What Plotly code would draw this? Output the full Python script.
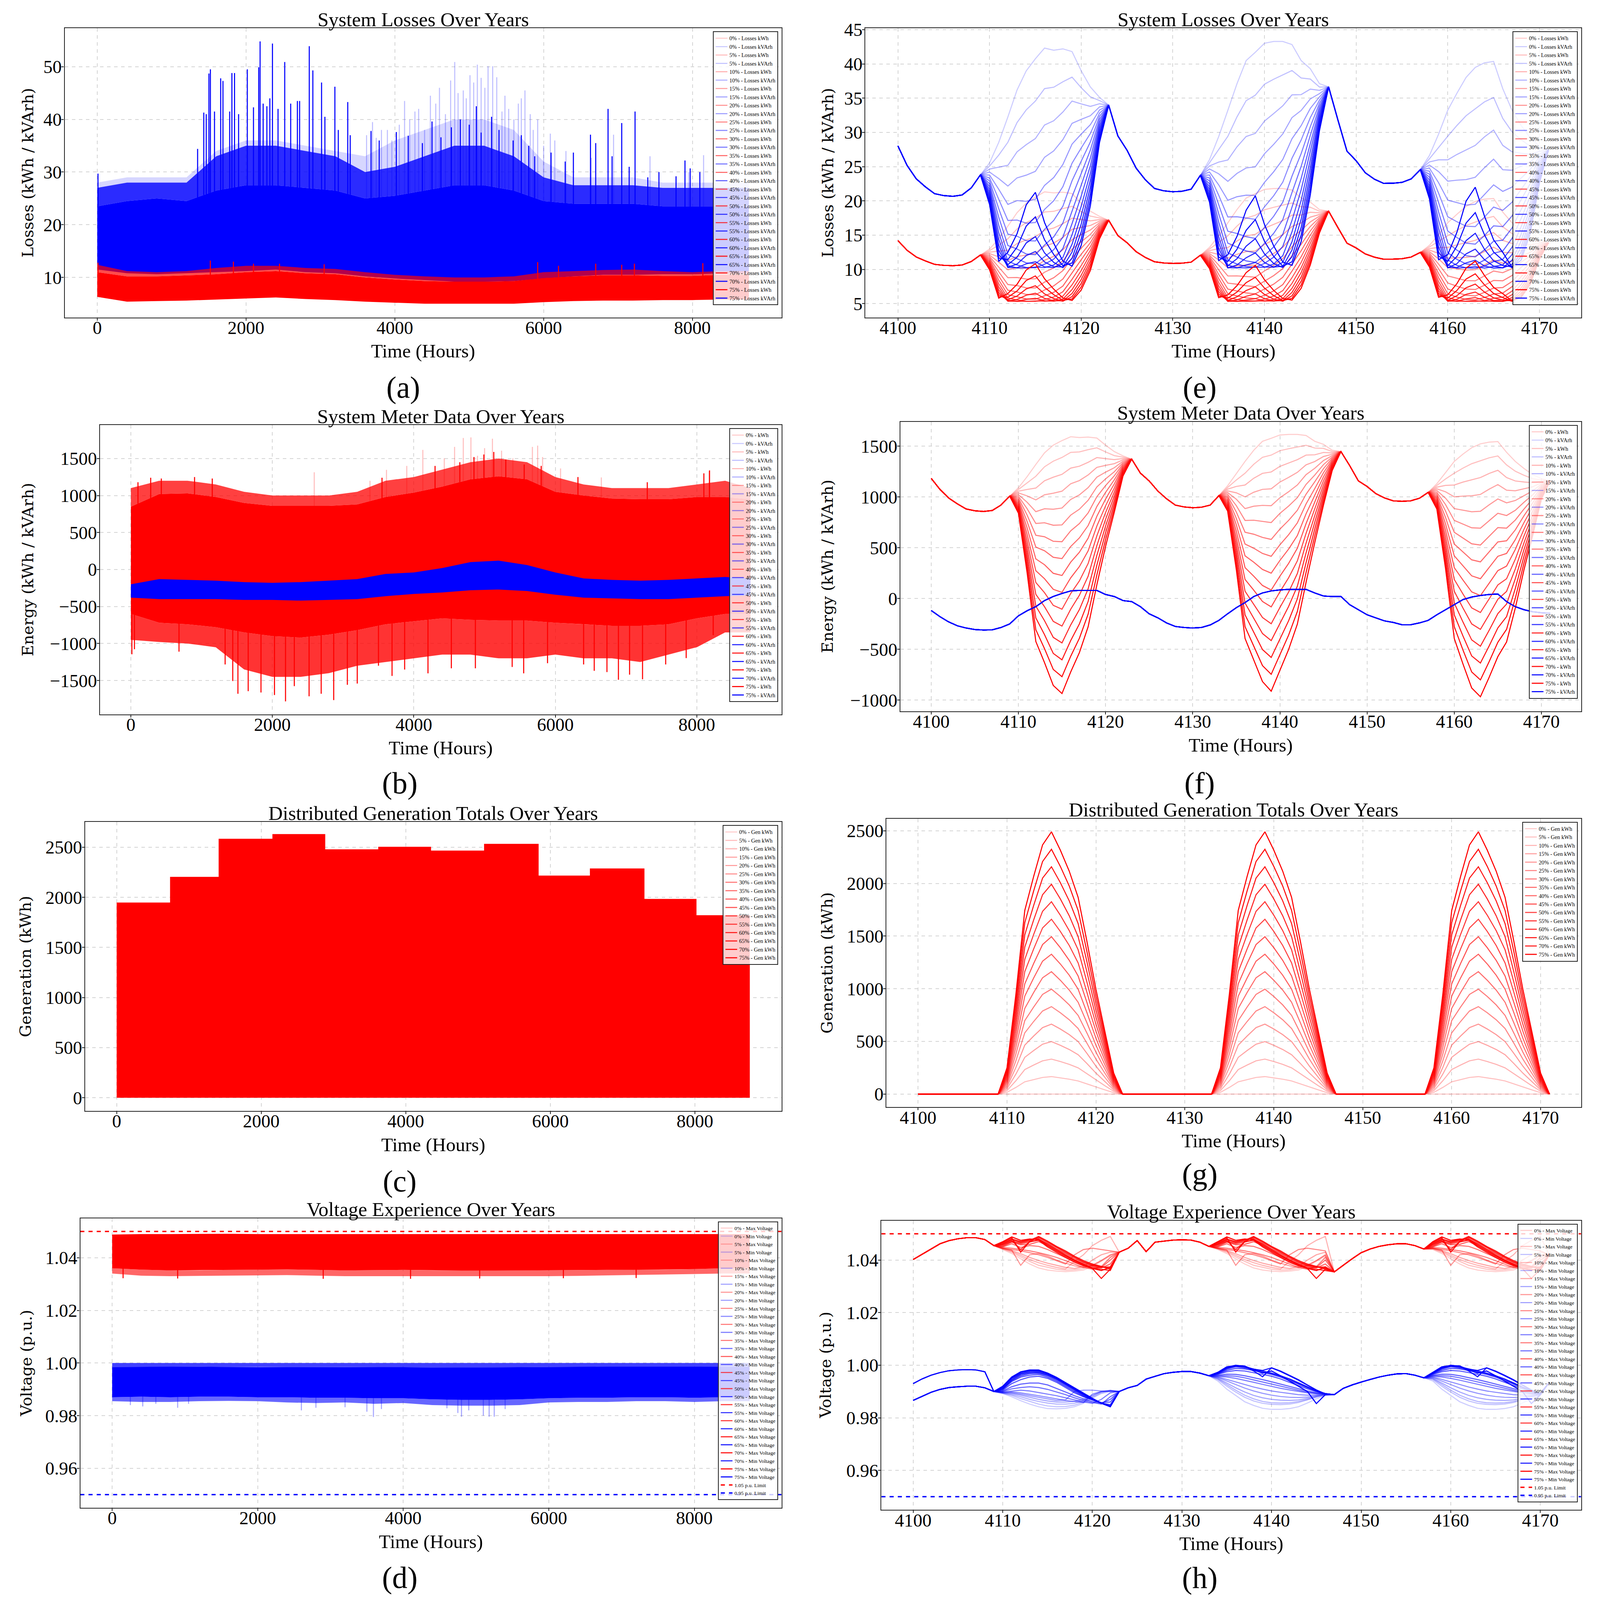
import plotly.graph_objects as go

# ------------------------------------------------------------------ data
LEVELS = [0, 5, 10, 15, 20, 25, 30, 35, 40, 45, 50, 55, 60, 65, 70, 75]

BAND_HOURS = [0, 400, 800, 1200, 1600, 2000, 2400, 2800, 3200, 3600, 4000, 4400,
              4800, 5200, 5600, 6000, 6400, 6800, 7200, 7600, 8000, 8400, 8759]

# (a) losses
LOSS_KWH_LO = [6.3, 5.4, 5.5, 5.6, 5.8, 6.0, 6.2, 5.9, 5.7, 5.4, 5.2, 5.0,
               5.0, 5.0, 5.0, 5.3, 5.5, 5.6, 5.6, 5.7, 5.7, 5.8, 5.8]
LOSS_KWH_HI = [11.0, 10.2, 10.2, 10.4, 10.6, 11.0, 11.2, 10.8, 10.6, 10.0, 9.6, 9.3,
               9.2, 9.2, 9.3, 9.9, 10.2, 10.4, 10.4, 10.3, 10.3, 10.5, 10.5]
LOSS_KWH_EDGE = [12.4, 11.2, 11.0, 11.2, 11.8, 12.2, 12.2, 11.8, 11.6, 11.0, 10.5, 10.2,
                 10.0, 10.0, 10.2, 11.0, 11.2, 11.4, 11.5, 11.2, 11.0, 11.2, 11.2]
LOSS_KWH_SPIKE_H = [10, 1520, 1830, 2100, 2450, 3050, 5920, 6200, 6700, 7050, 7220, 8140]
LOSS_KWH_SPIKE_V = [12.8, 13.2, 13.0, 12.6, 12.6, 12.5, 12.9, 12.2, 12.6, 12.4, 12.6, 12.7]

LOSS_KVARH_LO = [11.5, 10.8, 10.6, 10.8, 11.0, 11.2, 11.5, 11.0, 10.8, 10.2, 9.8, 9.5,
                 9.2, 9.2, 9.3, 9.8, 10.2, 10.5, 10.5, 10.6, 10.6, 10.8, 10.8]
LOSS_KVARH_HI = [23.5, 24.5, 25.0, 24.5, 26.5, 27.5, 27.5, 27.0, 26.5, 25.0, 25.5, 26.5,
                 27.5, 27.5, 26.5, 24.5, 24.0, 24.0, 24.0, 23.5, 23.5, 23.5, 23.5]
LOSS_KVARH_EDGE = [27.0, 28.0, 28.0, 28.0, 33.0, 35.0, 35.0, 34.0, 33.0, 30.0, 31.0, 33.0,
                   35.0, 35.0, 33.0, 29.0, 27.5, 27.5, 27.5, 27.0, 27.0, 27.0, 27.0]
LOSS_KVARH_LIGHT = [28.0, 29.0, 29.0, 29.0, 34.0, 36.0, 36.0, 35.0, 34.0, 33.0, 36.0, 38.0,
                    40.0, 40.0, 38.0, 32.0, 29.0, 29.0, 29.0, 28.0, 28.0, 28.0, 28.0]
LOSS_KVARH_SPIKE_H = [10, 1349, 1432, 1465, 1501, 1521, 1576, 1659, 1690, 1780,
                      1810, 1845, 1900, 2017, 2100, 2170, 2189, 2230, 2280, 2320,
                      2355, 2430, 2520, 2600, 2690, 2720, 2850, 2898, 3015, 3060,
                      3194, 3240, 3367, 3400, 3680, 3790, 4020, 4180, 4370, 4500,
                      4620, 4760, 4880, 5000, 5095, 5160, 5300, 5400, 5590, 5700,
                      5800, 5880, 6100, 6290, 6400, 6630, 6700, 6866, 6920, 7050,
                      7150, 7229, 7400, 7550, 7780, 7900, 7970, 8100]
LOSS_KVARH_SPIKE_V = [29.7, 34.4, 41.3, 41.0, 48.7, 49.5, 41.5, 47.8, 47.3, 41.5,
                      48.8, 48.8, 41.0, 49.5, 42.3, 49.9, 54.8, 43.0, 42.5, 44.0,
                      54.4, 42.0, 50.9, 43.0, 43.5, 43.5, 53.9, 49.3, 47.0, 40.5,
                      46.2, 38.0, 43.3, 37.0, 37.8, 36.0, 37.6, 36.9, 35.5, 39.6,
                      36.6, 38.5, 40.0, 39.0, 42.5, 37.5, 40.5, 38.0, 36.0, 37.0,
                      35.0, 33.0, 33.7, 32.0, 33.7, 37.1, 35.5, 42.0, 33.0, 39.3,
                      31.0, 41.5, 29.0, 30.0, 29.2, 32.2, 30.7, 30.0]
LOSS_KVARH_LIGHT_SPIKE_H = [3620, 3700, 3750, 3820, 3900, 3960, 4060, 4131, 4200, 4270,
                            4320, 4400, 4478, 4550, 4600, 4680, 4750, 4805, 4850, 4920,
                            4960, 5010, 5060, 5109, 5160, 5210, 5253, 5315, 5370, 5440,
                            5480, 5530, 5600, 5660, 5700, 5749, 5820, 5860, 5920, 6000,
                            6090, 6150, 6300, 6640, 6940, 7430, 7950, 8150]
LOSS_KVARH_LIGHT_SPIKE_V = [37.0, 39.5, 36.5, 38.0, 38.0, 36.0, 39.0, 43.5, 40.0, 41.5,
                            42.0, 38.0, 44.5, 43.0, 46.0, 41.0, 47.4, 50.9, 45.0, 45.5,
                            44.0, 48.4, 47.0, 50.4, 47.9, 46.0, 50.1, 50.1, 48.0, 41.5,
                            44.5, 42.0, 40.0, 43.0, 44.0, 45.5, 41.0, 38.0, 40.0, 35.0,
                            37.3, 36.0, 34.0, 32.7, 37.1, 33.0, 30.0, 33.2]

# (b) meter data
METER_KWH_LO = [-600, -720, -740, -780, -850, -900, -920, -880, -820, -740, -700, -660,
                -680, -690, -690, -720, -740, -760, -760, -740, -660, -600, -600]
METER_KWH_HI = [850, 1020, 1030, 980, 900, 860, 860, 860, 880, 980, 1040, 1120,
                1220, 1260, 1220, 1050, 1000, 960, 950, 950, 980, 980, 950]
METER_KWH_LO_EDGE = [-950, -980, -1000, -1050, -1350, -1450, -1450, -1400, -1300, -1250, -1200, -1150,
                     -1150, -1200, -1200, -1150, -1200, -1200, -1250, -1150, -1050, -850, -850]
METER_KWH_HI_EDGE = [1100, 1200, 1200, 1150, 1050, 1000, 1000, 1000, 1050, 1200, 1250, 1350,
                     1450, 1500, 1450, 1250, 1150, 1100, 1100, 1100, 1150, 1200, 1100]
METER_KWH_LIGHT_SPIKE_H = [2592, 3380, 3613, 3900, 4127, 4430, 4576, 4699, 4807, 4900,
                           5000, 5111, 5240, 5400, 5676, 5750, 5820, 6074, 6650, 8174]
METER_KWH_LIGHT_SPIKE_V = [1314, 1200, 1348, 1400, 1617, 1503, 1658, 1778, 1785, 1537,
                           1641, 1768, 1606, 1503, 1658, 1675, 1520, 1366, 1245, 1331]
METER_KWH_UP_SPIKE_H = [100, 280, 430, 900, 1150, 3550, 4300, 4650, 4850, 4990,
                        5130, 5300, 5560, 5800, 6320, 7300, 8100, 8180]
METER_KWH_UP_SPIKE_V = [1180, 1240, 1230, 1250, 1230, 1240, 1400, 1450, 1520, 1555,
                        1589, 1486, 1420, 1400, 1250, 1180, 1300, 1340]
METER_KWH_DOWN_SPIKE_H = [14, 50, 680, 1332, 1440, 1513, 1658, 1839, 2030, 2186,
                          2310, 2519, 2690, 2867, 3060, 3200, 3500, 3692, 3870, 4200,
                          4530, 4870, 5390, 5553, 5890, 6400, 6550, 6730, 6892, 7050,
                          7233, 7560, 7850, 8232]
METER_KWH_DOWN_SPIKE_V = [-1146, -1077, -1110, -1283, -1507, -1679, -1644, -1662, -1696, -1782,
                          -1576, -1713, -1679, -1765, -1558, -1541, -1300, -1438, -1352, -1403,
                          -1335, -1335, -1317, -1403, -1266, -1283, -1369, -1386, -1490, -1421,
                          -1483, -1283, -1197, -887]
METER_KVARH_LO = [-380, -400, -400, -400, -410, -410, -420, -410, -400, -360, -330, -310,
                  -280, -270, -290, -340, -380, -390, -400, -400, -380, -360, -350]
METER_KVARH_HI = [-200, -130, -140, -150, -170, -180, -170, -150, -130, -60, -40, 20,
                  100, 120, 60, -40, -120, -140, -150, -140, -120, -100, -120]

# (c) monthly maximum of the 75 % generation
GEN_MONTH_START = [0, 744, 1416, 2160, 2880, 3624, 4344, 5088, 5832, 6552, 7296, 8016, 8759]
GEN_MONTH_MAX = [1944, 2200, 2580, 2627, 2475, 2500, 2462, 2530, 2213, 2284, 1980, 1817]

# (d) voltage envelopes
VMAX_LO = [1.0360, 1.0355, 1.0352, 1.0352, 1.0354, 1.0355, 1.0356, 1.0354, 1.0352, 1.0353, 1.0354, 1.0352,
           1.0351, 1.0351, 1.0352, 1.0352, 1.0353, 1.0354, 1.0354, 1.0355, 1.0357, 1.0360, 1.0360]
VMAX_HI = [1.0488, 1.0490, 1.0490, 1.0491, 1.0491, 1.0490, 1.0490, 1.0491, 1.0490, 1.0490, 1.0491, 1.0491,
           1.0490, 1.0490, 1.0491, 1.0490, 1.0490, 1.0491, 1.0490, 1.0490, 1.0490, 1.0490, 1.0490]
VMAX_LO_EDGE = [1.0340, 1.0332, 1.0330, 1.0330, 1.0332, 1.0333, 1.0334, 1.0332, 1.0330, 1.0330, 1.0331, 1.0330,
                1.0330, 1.0330, 1.0330, 1.0330, 1.0331, 1.0333, 1.0334, 1.0336, 1.0338, 1.0340, 1.0340]
VMAX_SPIKE_H = [150, 900, 2900, 4100, 5050, 6200, 7200]
VMAX_SPIKE_V = [1.0322, 1.0321, 1.0320, 1.0320, 1.0321, 1.0322, 1.0323]
VMIN_LO = [0.9870, 0.9872, 0.9870, 0.9872, 0.9872, 0.9870, 0.9870, 0.9868, 0.9868, 0.9866, 0.9866, 0.9862,
           0.9860, 0.9860, 0.9862, 0.9866, 0.9868, 0.9868, 0.9870, 0.9870, 0.9868, 0.9870, 0.9870]
VMIN_HI = [0.9985, 0.9986, 0.9986, 0.9986, 0.9985, 0.9984, 0.9985, 0.9985, 0.9985, 0.9984, 0.9984, 0.9983,
           0.9983, 0.9983, 0.9984, 0.9985, 0.9986, 0.9986, 0.9986, 0.9986, 0.9986, 0.9986, 0.9986]
VMIN_HI_EDGE = [1.0000] * 23
VMIN_LO_EDGE = [0.9855, 0.9852, 0.9852, 0.9855, 0.9856, 0.9855, 0.9850, 0.9848, 0.9850, 0.9845, 0.9848, 0.9840,
                0.9838, 0.9838, 0.9840, 0.9850, 0.9852, 0.9852, 0.9855, 0.9855, 0.9852, 0.9855, 0.9855]
VMIN_LIGHT_SPIKE_H = [250, 420, 600, 900, 1050, 2600, 2800, 3200, 3500, 3590,
                      3700, 4600, 4750, 4800, 4900, 5100, 5180, 5250, 5400]
VMIN_LIGHT_SPIKE_V = [0.9840, 0.9835, 0.9845, 0.9830, 0.9845, 0.9820, 0.9830, 0.9832, 0.9815, 0.9795,
                      0.9825, 0.9828, 0.9810, 0.9796, 0.9820, 0.9800, 0.9796, 0.9796, 0.9825]
VOLT_LIMITS = [1.05, 0.95]

# ---- zoomed window, hours 4100-4171 (panels e-h) ----
ZOOM_HOURS = list(range(4100, 4172))
LOAD_KWH = [1183, 1075, 990, 932, 882, 864, 857, 867, 920, 1008,
            1090, 1200, 1320, 1435, 1510, 1555, 1593, 1585, 1590, 1580,
            1510, 1447, 1405, 1372, 1234, 1158, 1058, 982, 920, 902,
            894, 899, 920, 1013, 1110, 1230, 1350, 1460, 1548, 1578,
            1610, 1616, 1616, 1605, 1548, 1518, 1460, 1447, 1309, 1158,
            1103, 1033, 990, 962, 957, 962, 987, 1045, 1130, 1240,
            1350, 1422, 1485, 1523, 1540, 1545, 1440, 1350, 1280, 1220,
            1180, 1160]
KVARH = [-118, -178, -230, -268, -290, -305, -310, -308, -285, -250,
         -170, -120, -80, -20, 20, 50, 75, 80, 80, 80,
         40, 20, -20, -30, -80, -150, -190, -240, -275, -285,
         -290, -285, -260, -215, -150, -90, -40, 20, 55, 75,
         85, 90, 90, 90, 55, 25, 20, 20, -60, -110,
         -160, -190, -220, -235, -258, -258, -240, -215, -160, -110,
         -60, -10, 15, 30, 40, 45, -30, -80, -110, -130,
         -140, -145]
GEN_SHAPE = [0, 0, 0, 0, 0, 0, 0, 0, 0, 0,
             0.10, 0.38, 0.70, 0.83, 0.95, 1.00, 0.93, 0.85, 0.75, 0.58,
             0.40, 0.24, 0.08, 0, 0, 0, 0, 0, 0, 0,
             0, 0, 0, 0, 0.10, 0.38, 0.70, 0.83, 0.95, 1.00,
             0.93, 0.85, 0.75, 0.58, 0.40, 0.24, 0.08, 0, 0, 0,
             0, 0, 0, 0, 0, 0, 0, 0, 0.10, 0.38,
             0.70, 0.83, 0.95, 1.00, 0.93, 0.85, 0.75, 0.58, 0.40, 0.24,
             0.08, 0]
GEN_PEAK = [0, 166, 332, 498, 664, 830, 996, 1162, 1328, 1494, 1660, 1826, 1992, 2158, 2324, 2490]
# losses read as base + coef * (kWh^2 + kVArh^2) of the meter flow
LOSS_KWH_BASE, LOSS_KWH_COEF = 5.3, 6.3e-6
LOSS_KVARH_BASE, LOSS_KVARH_COEF = 10.16, 1.264e-5

# voltages: night values (None = daylight hour, taken from the day tables)
VMAX_NIGHT = ([1.0402, 1.0422, 1.0442, 1.0462, 1.0474, 1.0481, 1.0485, 1.0485, 1.0478, 1.0455]
              + [None] * 13
              + [1.0430, 1.0445, 1.0474, 1.0432, 1.0468, 1.0472, 1.0476, 1.0477, 1.0476, 1.0468, 1.0452]
              + [None] * 13
              + [1.0355, 1.0380, 1.0405, 1.0428, 1.0442, 1.0452, 1.0458, 1.0462, 1.0462, 1.0455, 1.0442]
              + [None] * 13
              + [1.0420])
VMIN_NIGHT = ([0.9930, 0.9948, 0.9962, 0.9972, 0.9979, 0.9982, 0.9983, 0.9982, 0.9975, 0.9900]
              + [None] * 13
              + [0.9900, 0.9914, 0.9923, 0.9947, 0.9958, 0.9968, 0.9973, 0.9976, 0.9976, 0.9970, 0.9960]
              + [None] * 13
              + [0.9888, 0.9912, 0.9925, 0.9936, 0.9946, 0.9955, 0.9962, 0.9967, 0.9968, 0.9962, 0.9952]
              + [None] * 13
              + [0.9935])
VMIN_EARLY_B = [0.9866, 0.9882, 0.9897, 0.9908, 0.9915, 0.9918, 0.9920, 0.9920, 0.9914, 0.9900]
VMIN_EARLY_B_LEVELS = [40, 45, 50, 55, 60, 65, 70, 75]
DAY_FIRST_HOURS = [4110, 4134, 4158]

VMAX_DAY = [
    [1.0440, 1.0425, 1.0405, 1.0385, 1.0370, 1.0362, 1.0358, 1.0356, 1.0358, 1.0362, 1.0375, 1.0395, 1.0415],
    [1.0442, 1.0430, 1.0412, 1.0395, 1.0380, 1.0372, 1.0365, 1.0362, 1.0363, 1.0368, 1.0380, 1.0398, 1.0418],
    [1.0443, 1.0433, 1.0418, 1.0402, 1.0390, 1.0380, 1.0372, 1.0366, 1.0395, 1.0420, 1.0455, 1.0475, 1.0490],
    [1.0444, 1.0436, 1.0424, 1.0410, 1.0398, 1.0388, 1.0380, 1.0372, 1.0368, 1.0375, 1.0400, 1.0420, 1.0430],
    [1.0445, 1.0438, 1.0380, 1.0420, 1.0425, 1.0415, 1.0400, 1.0388, 1.0378, 1.0372, 1.0380, 1.0398, 1.0420],
    [1.0445, 1.0440, 1.0435, 1.0428, 1.0420, 1.0410, 1.0398, 1.0385, 1.0420, 1.0440, 1.0445, 1.0440, 1.0435],
    [1.0448, 1.0445, 1.0440, 1.0435, 1.0428, 1.0420, 1.0410, 1.0398, 1.0385, 1.0372, 1.0365, 1.0375, 1.0410],
    [1.0450, 1.0462, 1.0448, 1.0455, 1.0452, 1.0440, 1.0425, 1.0410, 1.0395, 1.0380, 1.0370, 1.0372, 1.0400],
    [1.0452, 1.0468, 1.0458, 1.0460, 1.0470, 1.0455, 1.0435, 1.0418, 1.0400, 1.0385, 1.0375, 1.0370, 1.0385],
    [1.0455, 1.0470, 1.0462, 1.0468, 1.0478, 1.0462, 1.0442, 1.0425, 1.0405, 1.0390, 1.0378, 1.0372, 1.0375],
    [1.0458, 1.0472, 1.0465, 1.0472, 1.0485, 1.0466, 1.0448, 1.0428, 1.0410, 1.0392, 1.0380, 1.0374, 1.0370],
    [1.0460, 1.0475, 1.0440, 1.0470, 1.0488, 1.0470, 1.0450, 1.0432, 1.0412, 1.0395, 1.0382, 1.0375, 1.0368],
    [1.0462, 1.0478, 1.0468, 1.0475, 1.0490, 1.0472, 1.0452, 1.0435, 1.0415, 1.0398, 1.0385, 1.0376, 1.0365],
    [1.0465, 1.0480, 1.0470, 1.0478, 1.0480, 1.0460, 1.0440, 1.0420, 1.0400, 1.0385, 1.0370, 1.0365, 1.0360],
    [1.0468, 1.0485, 1.0430, 1.0470, 1.0475, 1.0450, 1.0430, 1.0410, 1.0392, 1.0378, 1.0368, 1.0330, 1.0365],
    [1.0470, 1.0488, 1.0475, 1.0480, 1.0478, 1.0455, 1.0435, 1.0415, 1.0398, 1.0382, 1.0368, 1.0360, 1.0372],
]
VMIN_DAY1 = [
    [0.9892, 0.9880, 0.9865, 0.9852, 0.9842, 0.9835, 0.9834, 0.9836, 0.9842, 0.9855, 0.9875, 0.9892, 0.9900],
    [0.9893, 0.9885, 0.9873, 0.9862, 0.9852, 0.9845, 0.9842, 0.9843, 0.9848, 0.9860, 0.9878, 0.9895, 0.9902],
    [0.9894, 0.9888, 0.9880, 0.9870, 0.9862, 0.9856, 0.9852, 0.9852, 0.9855, 0.9865, 0.9882, 0.9898, 0.9903],
    [0.9895, 0.9892, 0.9886, 0.9878, 0.9870, 0.9864, 0.9860, 0.9860, 0.9862, 0.9870, 0.9885, 0.9900, 0.9905],
    [0.9896, 0.9895, 0.9890, 0.9884, 0.9878, 0.9872, 0.9866, 0.9868, 0.9900, 0.9905, 0.9905, 0.9902, 0.9900],
    [0.9897, 0.9898, 0.9895, 0.9890, 0.9884, 0.9878, 0.9872, 0.9866, 0.9862, 0.9858, 0.9890, 0.9900, 0.9902],
    [0.9898, 0.9902, 0.9905, 0.9902, 0.9896, 0.9890, 0.9884, 0.9876, 0.9868, 0.9860, 0.9855, 0.9870, 0.9895],
    [0.9900, 0.9910, 0.9915, 0.9918, 0.9915, 0.9908, 0.9898, 0.9888, 0.9876, 0.9866, 0.9858, 0.9852, 0.9880],
    [0.9902, 0.9918, 0.9928, 0.9932, 0.9932, 0.9925, 0.9912, 0.9898, 0.9884, 0.9872, 0.9862, 0.9855, 0.9870],
    [0.9905, 0.9930, 0.9945, 0.9955, 0.9958, 0.9950, 0.9935, 0.9915, 0.9895, 0.9880, 0.9868, 0.9858, 0.9860],
    [0.9908, 0.9938, 0.9955, 0.9962, 0.9965, 0.9955, 0.9940, 0.9920, 0.9900, 0.9882, 0.9868, 0.9856, 0.9850],
    [0.9910, 0.9942, 0.9960, 0.9968, 0.9970, 0.9960, 0.9945, 0.9925, 0.9905, 0.9885, 0.9870, 0.9855, 0.9846],
    [0.9912, 0.9945, 0.9965, 0.9972, 0.9973, 0.9963, 0.9948, 0.9928, 0.9908, 0.9888, 0.9872, 0.9856, 0.9845],
    [0.9915, 0.9950, 0.9968, 0.9976, 0.9977, 0.9966, 0.9950, 0.9930, 0.9910, 0.9890, 0.9872, 0.9855, 0.9843],
    [0.9918, 0.9952, 0.9972, 0.9980, 0.9980, 0.9968, 0.9952, 0.9932, 0.9912, 0.9892, 0.9873, 0.9855, 0.9842],
    [0.9920, 0.9955, 0.9975, 0.9982, 0.9982, 0.9970, 0.9954, 0.9934, 0.9914, 0.9893, 0.9874, 0.9856, 0.9842],
]
VMIN_DAY23 = [
    [0.9940, 0.9909, 0.9885, 0.9861, 0.9847, 0.9836, 0.9832, 0.9832, 0.9835, 0.9842, 0.9856, 0.9872, 0.9885],
    [0.9945, 0.9920, 0.9898, 0.9878, 0.9864, 0.9855, 0.9851, 0.9850, 0.9852, 0.9858, 0.9868, 0.9878, 0.9886],
    [0.9948, 0.9926, 0.9905, 0.9886, 0.9872, 0.9862, 0.9857, 0.9856, 0.9857, 0.9862, 0.9870, 0.9880, 0.9887],
    [0.9950, 0.9932, 0.9914, 0.9898, 0.9885, 0.9876, 0.9870, 0.9867, 0.9866, 0.9868, 0.9874, 0.9882, 0.9888],
    [0.9953, 0.9940, 0.9926, 0.9913, 0.9902, 0.9893, 0.9886, 0.9881, 0.9878, 0.9877, 0.9879, 0.9884, 0.9889],
    [0.9955, 0.9946, 0.9936, 0.9926, 0.9917, 0.9909, 0.9902, 0.9897, 0.9892, 0.9888, 0.9886, 0.9887, 0.9890],
    [0.9958, 0.9955, 0.9950, 0.9943, 0.9935, 0.9927, 0.9919, 0.9912, 0.9906, 0.9900, 0.9895, 0.9891, 0.9890],
    [0.9960, 0.9960, 0.9958, 0.9952, 0.9944, 0.9936, 0.9928, 0.9920, 0.9912, 0.9905, 0.9898, 0.9893, 0.9891],
    [0.9962, 0.9966, 0.9965, 0.9960, 0.9953, 0.9945, 0.9937, 0.9928, 0.9919, 0.9910, 0.9902, 0.9895, 0.9891],
    [0.9965, 0.9975, 0.9980, 0.9978, 0.9972, 0.9965, 0.9958, 0.9948, 0.9935, 0.9922, 0.9910, 0.9899, 0.9892],
    [0.9967, 0.9980, 0.9988, 0.9986, 0.9980, 0.9972, 0.9965, 0.9955, 0.9942, 0.9928, 0.9914, 0.9901, 0.9892],
    [0.9968, 0.9985, 0.9994, 0.9990, 0.9984, 0.9975, 0.9968, 0.9958, 0.9946, 0.9931, 0.9916, 0.9902, 0.9892],
    [0.9970, 0.9988, 0.9997, 0.9993, 0.9986, 0.9978, 0.9970, 0.9960, 0.9948, 0.9933, 0.9917, 0.9903, 0.9892],
    [0.9971, 0.9990, 1.0000, 0.9995, 0.9985, 0.9980, 0.9990, 0.9978, 0.9962, 0.9945, 0.9925, 0.9906, 0.9891],
    [0.9972, 0.9992, 0.9998, 0.9996, 0.9978, 0.9956, 0.9990, 0.9976, 0.9960, 0.9943, 0.9924, 0.9905, 0.9890],
    [0.9973, 0.9994, 0.9999, 0.9997, 0.9982, 0.9970, 0.9978, 0.9960, 0.9940, 0.9920, 0.9900, 0.9854, 0.9888],
]

# ------------------------------------------------------------------ layout helpers
REF_W, REF_H = 4404, 4753          # layout measured on the reference, in its pixels
FONT = "Liberation Serif"
YFONT = "DejaVu Serif"
RED, BLUE = "255,0,0", "0,0,255"
LW = 2.7


def fx(p):
    return p / REF_W


def fy(p):
    return 1 - p / REF_H


def rgba(c, a):
    return f"rgba({c},{a:.3f})"


def lvl_alpha(i):
    return 0.2 + 0.8 * i / (len(LEVELS) - 1)


# panel boxes in reference pixels (left, right, top, bottom), y-label centre x
PANELS = {
    "a": dict(n=1, box=(178, 2151, 84, 943), xr=[-438, 9197], yr=[2.4, 57.3], x0=0, dx=2000, y0=0, dy=10,
              title="System Losses Over Years", ytitle="Losses (kWh / kVArh)", ylx=76, lab=(1110, 1150), lg=14.2),
    "b": dict(n=2, box=(275, 2151, 1263, 2122), xr=[-438, 9197], yr=[-1957, 1951], x0=0, dx=2000, y0=0, dy=500,
              title="System Meter Data Over Years", ytitle="Energy (kWh / kVArh)", ylx=76, lab=(1100, 2326), lg=14.2),
    "c": dict(n=3, box=(234, 2151, 2442, 3300), xr=[-438, 9197], yr=[-131, 2751], x0=0, dx=2000, y0=0, dy=500,
              title="Distributed Generation Totals Over Years", ytitle="Generation (kWh)", ylx=70, lab=(1100, 3508), lg=14.2),
    "d": dict(n=4, box=(221, 2151, 3619, 4479), xr=[-438, 9197], yr=[0.945, 1.055], x0=0, dx=2000, y0=0.96, dy=0.02,
              title="Voltage Experience Over Years", ytitle="Voltage (p.u.)", ylx=72, lab=(1100, 4686), lg=13.5),
    "e": dict(n=5, box=(2382, 4352, 84, 943), xr=[4096.45, 4174.55], yr=[2.98, 45.2], x0=4100, dx=10, y0=0, dy=5,
              title="System Losses Over Years", ytitle="Losses (kWh / kVArh)", ylx=2278, lab=(3302, 1150), lg=14.2),
    "f": dict(n=6, box=(2478, 4352, 1253, 2113), xr=[4096.45, 4174.55], yr=[-1110, 1740], x0=4100, dx=10, y0=0, dy=500,
              title="System Meter Data Over Years", ytitle="Energy (kWh / kVArh)", ylx=2278, lab=(3302, 2326), lg=14.2),
    "g": dict(n=7, box=(2440, 4352, 2432, 3289), xr=[4096.45, 4174.55], yr=[-124.5, 2614.5], x0=4100, dx=10, y0=0, dy=500,
              title="Distributed Generation Totals Over Years", ytitle="Generation (kWh)", ylx=2276, lab=(3302, 3488), lg=14.2),
    "h": dict(n=8, box=(2426, 4352, 3626, 4485), xr=[4096.45, 4174.55], yr=[0.945, 1.055], x0=4100, dx=10, y0=0.96, dy=0.02,
              title="Voltage Experience Over Years", ytitle="Voltage (p.u.)", ylx=2272, lab=(3302, 4688), lg=13.5),
}


def refs(n):
    s = "" if n == 1 else str(n)
    return "x" + s, "y" + s, "legend" + s


fig = go.Figure()


def add_line(panel, x, y, color, a, name=None, width=LW, dash=None, legend=True):
    xa, ya, lg = refs(PANELS[panel]["n"])
    fig.add_trace(go.Scatter(
        x=x, y=y, mode="lines", name=name, showlegend=legend and name is not None,
        line=dict(color=rgba(color, a), width=width, dash=dash),
        xaxis=xa, yaxis=ya, legend=lg, hoverinfo="skip"))


def add_band(panel, lo, hi, color, a):
    xa, ya, lg = refs(PANELS[panel]["n"])
    fig.add_trace(go.Scatter(
        x=BAND_HOURS + BAND_HOURS[::-1], y=hi + lo[::-1], mode="lines", fill="toself",
        fillcolor=rgba(color, a), line=dict(width=0), showlegend=False,
        xaxis=xa, yaxis=ya, hoverinfo="skip"))


def add_spikes(panel, hours, tops, base, color, a, width=2.7):
    xs, ys = [], []
    for h, t in zip(hours, tops):
        xs += [h, h, None]
        ys += [base, t, None]
    add_line(panel, xs, ys, color, a, width=width, legend=False)


def add_legend_only(panel, entries):
    for name, color, a, dash in entries:
        add_line(panel, [None], [None], color, a, name=name, dash=dash)


def pair_entries(labels):
    out = []
    for i, lv in enumerate(LEVELS):
        for lab, col in labels:
            out.append((f"{lv}% - {lab}", col, lvl_alpha(i), None))
    return out


# ------------------------------------------------------------------ (a)
add_band("a", LOSS_KVARH_HI, LOSS_KVARH_LIGHT, BLUE, 0.16)
add_spikes("a", LOSS_KVARH_LIGHT_SPIKE_H, LOSS_KVARH_LIGHT_SPIKE_V, 20, BLUE, 0.25)
add_band("a", LOSS_KVARH_HI, LOSS_KVARH_EDGE, BLUE, 0.8)
add_band("a", LOSS_KVARH_LO, LOSS_KVARH_HI, BLUE, 1.0)
add_spikes("a", LOSS_KVARH_SPIKE_H, LOSS_KVARH_SPIKE_V, 20, BLUE, 1.0)
add_band("a", LOSS_KWH_HI, LOSS_KWH_EDGE, RED, 0.7)
add_band("a", LOSS_KWH_LO, LOSS_KWH_HI, RED, 1.0)
add_spikes("a", LOSS_KWH_SPIKE_H, LOSS_KWH_SPIKE_V, 8, RED, 1.0)
add_legend_only("a", pair_entries([("Losses kWh", RED), ("Losses kVArh", BLUE)]))

# ------------------------------------------------------------------ (b)
add_spikes("b", METER_KWH_LIGHT_SPIKE_H, METER_KWH_LIGHT_SPIKE_V, 500, RED, 0.25)
add_band("b", METER_KWH_HI, METER_KWH_HI_EDGE, RED, 0.75)
add_band("b", METER_KWH_LO_EDGE, METER_KWH_LO, RED, 0.8)
add_band("b", METER_KWH_LO, METER_KWH_HI, RED, 1.0)
add_spikes("b", METER_KWH_UP_SPIKE_H, METER_KWH_UP_SPIKE_V, 500, RED, 1.0)
add_spikes("b", METER_KWH_DOWN_SPIKE_H, METER_KWH_DOWN_SPIKE_V, -500, RED, 1.0)
add_band("b", METER_KVARH_LO, METER_KVARH_HI, BLUE, 1.0)
add_legend_only("b", pair_entries([("kWh", RED), ("kVArh", BLUE)]))

# ------------------------------------------------------------------ (c)
xa, ya, lg = refs(3)
fig.add_trace(go.Scatter(
    x=GEN_MONTH_START, y=GEN_MONTH_MAX + GEN_MONTH_MAX[-1:], mode="lines", line_shape="hv",
    fill="tozeroy", fillcolor=rgba(RED, 1.0), line=dict(color=rgba(RED, 1.0), width=2),
    showlegend=False, xaxis=xa, yaxis=ya, hoverinfo="skip"))
add_legend_only("c", pair_entries([("Gen kWh", RED)]))

# ------------------------------------------------------------------ (d)
limit_names = ["1.05 p.u. Limit", "0.95 p.u. Limit"]
add_band("d", VMAX_LO_EDGE, VMAX_LO, RED, 0.6)
add_band("d", VMAX_LO, VMAX_HI, RED, 1.0)
add_spikes("d", VMAX_SPIKE_H, VMAX_SPIKE_V, 1.040, RED, 1.0)
add_spikes("d", VMIN_LIGHT_SPIKE_H, VMIN_LIGHT_SPIKE_V, 0.992, BLUE, 0.35)
add_band("d", VMIN_LO_EDGE, VMIN_LO, BLUE, 0.6)
add_band("d", VMIN_HI, VMIN_HI_EDGE, BLUE, 0.75)
add_band("d", VMIN_LO, VMIN_HI, BLUE, 1.0)
add_legend_only("d", pair_entries([("Max Voltage", RED), ("Min Voltage", BLUE)]))
for lim, name, col in zip(VOLT_LIMITS, limit_names, [RED, BLUE]):
    add_line("d", PANELS["d"]["xr"], [lim, lim], col, 1.0, name=name, width=3.5, dash="dash")

# ------------------------------------------------------------------ (e), (f), (g)
for i, lv in enumerate(LEVELS):
    a = lvl_alpha(i)
    net = [ld - GEN_PEAK[i] * s for ld, s in zip(LOAD_KWH, GEN_SHAPE)]
    flow2 = [p * p + q * q for p, q in zip(net, KVARH)]
    add_line("e", ZOOM_HOURS, [LOSS_KWH_BASE + LOSS_KWH_COEF * f for f in flow2], RED, a,
             name=f"{lv}% - Losses kWh")
    add_line("e", ZOOM_HOURS, [LOSS_KVARH_BASE + LOSS_KVARH_COEF * f for f in flow2], BLUE, a,
             name=f"{lv}% - Losses kVArh")
    add_line("f", ZOOM_HOURS, net, RED, a, name=f"{lv}% - kWh")
    add_line("f", ZOOM_HOURS, KVARH, BLUE, a, name=f"{lv}% - kVArh")
    add_line("g", ZOOM_HOURS, [GEN_PEAK[i] * s for s in GEN_SHAPE], RED, a, name=f"{lv}% - Gen kWh")

# ------------------------------------------------------------------ (h)
for i, lv in enumerate(LEVELS):
    a = lvl_alpha(i)
    vmax = list(VMAX_NIGHT)
    vmin = list(VMIN_NIGHT)
    if lv in VMIN_EARLY_B_LEVELS:
        vmin[:len(VMIN_EARLY_B)] = VMIN_EARLY_B
    for d, h0 in enumerate(DAY_FIRST_HOURS):
        k = h0 - ZOOM_HOURS[0]
        vmax[k:k + 13] = VMAX_DAY[i]
        vmin[k:k + 13] = VMIN_DAY1[i] if d == 0 else VMIN_DAY23[i]
    add_line("h", ZOOM_HOURS, vmax, RED, a, name=f"{lv}% - Max Voltage")
    add_line("h", ZOOM_HOURS, vmin, BLUE, a, name=f"{lv}% - Min Voltage")
for lim, name, col in zip(VOLT_LIMITS, limit_names, [RED, BLUE]):
    add_line("h", PANELS["h"]["xr"], [lim, lim], col, 1.0, name=name, width=3.5, dash="dash")

# ------------------------------------------------------------------ axes, legends, labels
layout = dict(width=REF_W, height=REF_H, margin=dict(l=0, r=0, t=0, b=0),
              paper_bgcolor="white", plot_bgcolor="white", showlegend=True,
              font=dict(family=FONT, color="black"))
annotations = []
axis_common = dict(showline=True, linecolor="#222222", linewidth=2.2, mirror=True,
                   ticks="outside", ticklen=6, tickwidth=2, tickcolor="#222222",
                   showgrid=True, gridcolor="#d4d4d4", griddash="dash", gridwidth=1.8,
                   zeroline=False, automargin=False,
                   tickfont=dict(family=FONT, size=47, color="black"))
for key, p in PANELS.items():
    n = p["n"]
    s = "" if n == 1 else str(n)
    left, right, top, bottom = p["box"]
    layout["xaxis" + s] = dict(axis_common, domain=[fx(left), fx(right)], anchor="y" + s,
                               range=p["xr"], tick0=p["x0"], dtick=p["dx"], ticklabelstandoff=-22)
    yfmt = ".2f" if p["dy"] < 1 else ""
    layout["yaxis" + s] = dict(axis_common, domain=[fy(bottom), fy(top)], anchor="x" + s,
                               range=p["yr"], tick0=p["y0"], dtick=p["dy"], tickformat=yfmt,
                               ticklabelstandoff=-10)
    layout["legend" + s] = dict(x=fx(right - 9), y=fy(top + 9), xanchor="right", yanchor="top",
                                bgcolor="rgba(255,255,255,0.8)", bordercolor="#222222", borderwidth=2,
                                font=dict(family=FONT, size=p["lg"], color="black"),
                                tracegroupgap=0, itemwidth=30)
    annotations.append(dict(text=p["title"], x=fx((left + right) / 2), y=fy(top - 26), xref="paper",
                            yref="paper", xanchor="center", yanchor="middle", showarrow=False,
                            font=dict(family=FONT, size=51, color="black")))
    annotations.append(dict(text="Time (Hours)", x=fx((left + right) / 2), y=fy(bottom + 100), xref="paper",
                            yref="paper", xanchor="center", yanchor="middle", showarrow=False,
                            font=dict(family=FONT, size=49, color="black")))
    annotations.append(dict(text=p["ytitle"], x=fx(p["ylx"]), y=fy((top + bottom) / 2), xref="paper",
                            yref="paper", xanchor="center", yanchor="middle", textangle=-90,
                            showarrow=False, font=dict(family=YFONT, size=40, color="black")))
    annotations.append(dict(text=f"({key})", x=fx(p["lab"][0]), y=fy(p["lab"][1]), xref="paper",
                            yref="paper", xanchor="center", yanchor="middle", showarrow=False,
                            font=dict(family=FONT, size=78, color="black")))
layout["annotations"] = annotations
fig.update_layout(**layout)

# the page is photographed at the browser's window size: fit the figure to it
FIT_PAGE = """
var gd = document.getElementById('{plot_id}');
document.body.style.margin = '0';
document.body.style.overflow = 'hidden';
Plotly.relayout(gd, {width: window.innerWidth, height: window.innerHeight});
"""

fig.write_html("out.html", post_script=FIT_PAGE, config={"displayModeBar": False})
